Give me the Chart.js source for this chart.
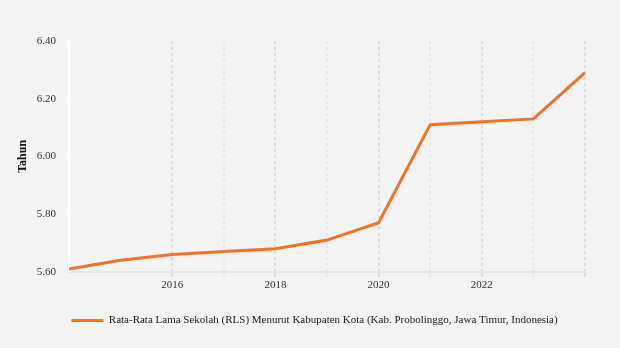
<!DOCTYPE html>
<html>
<head>
<meta charset="utf-8">
<script src="https://cdn.jsdelivr.net/npm/chart.js@4"></script>
<style>
  html, body { margin: 0; padding: 0; background: #f4f4f4; }
  #wrap { width: 620px; height: 348px; }
</style>
</head>
<body>
<div id="wrap"><canvas id="c" width="620" height="348"></canvas></div>
<script>
// data
const years = [2014, 2015, 2016, 2017, 2018, 2019, 2020, 2021, 2022, 2023, 2024];
const rls = [5.61, 5.64, 5.66, 5.67, 5.68, 5.71, 5.77, 6.11, 6.12, 6.13, 6.29];
const yTicks = [5.6, 5.8, 6.0, 6.2, 6.4];
const xLabelYears = [2016, 2018, 2020, 2022];
const seriesName = 'Rata-Rata Lama Sekolah (RLS) Menurut Kabupaten Kota (Kab. Probolinggo, Jawa Timur, Indonesia)';

const font = "'Liberation Serif', 'DejaVu Serif', serif";
const ctx = document.getElementById('c').getContext('2d');

// nudge the legend to the right, like the original
const legendShift = {
  id: 'legendShift',
  afterLayout(chart) {
    chart.legend.left += 22;
    chart.legend.right += 22;
  }
};

new Chart(ctx, {
  type: 'line',
  data: {
    datasets: [{
      label: seriesName,
      data: years.map((y, i) => ({ x: y, y: rls[i] })),
      borderColor: '#f47126',
      backgroundColor: '#f47126',
      borderWidth: 3,
      pointRadius: 0,
      tension: 0,
      fill: false,
    }]
  },
  plugins: [legendShift],
  options: {
    responsive: false,
    animation: false,
    layout: { padding: { left: 0, right: 35, top: 41, bottom: 12 } },
    plugins: {
      tooltip: { enabled: false },
      legend: {
        position: 'bottom',
        labels: {
          boxWidth: 32,
          boxHeight: 3,
          padding: 21,
          color: '#222',
          font: { family: font, size: 11 },
          generateLabels: (chart) => {
            const items = Chart.defaults.plugins.legend.labels.generateLabels(chart);
            items.forEach(it => { it.lineWidth = 0; });
            return items;
          }
        }
      }
    },
    scales: {
      x: {
        type: 'linear',
        min: 2014,
        max: 2024,
        afterBuildTicks: (axis) => { axis.ticks = years.map(v => ({ value: v })); },
        ticks: {
          autoSkip: false,
          maxRotation: 0,
          color: '#333',
          font: { family: font, size: 11 },
          padding: 2,
          callback: (v) => xLabelYears.includes(v) ? String(v) : '',
        },
        grid: {
          color: (c) => {
            const v = c.tick ? c.tick.value : null;
            if (v === 2014 || v === 2015) return 'rgba(0,0,0,0)';
            return v % 2 === 0 ? '#dddddd' : '#e9e9e9';
          },
          lineWidth: 2,
          tickLength: 5,
        },
        border: { color: '#e6e6e6', width: 2, dash: [3, 3] },
      },
      y: {
        min: 5.6,
        max: 6.4,
        afterBuildTicks: (axis) => { axis.ticks = yTicks.map(v => ({ value: v })); },
        afterFit: (axis) => { axis.width = 69; },
        title: {
          display: true,
          text: 'Tahun',
          color: '#111',
          font: { family: font, size: 12, weight: 'bold' },
          padding: { top: 16, bottom: 4 },
        },
        ticks: {
          color: '#333',
          font: { family: font, size: 11 },
          padding: 10,
          callback: (v) => v.toFixed(2),
        },
        grid: {
          drawOnChartArea: false,
          color: '#ffffff',
          tickLength: 3,
        },
        border: { color: '#ffffff', width: 2 },
      }
    }
  }
});
</script>
</body>
</html>
